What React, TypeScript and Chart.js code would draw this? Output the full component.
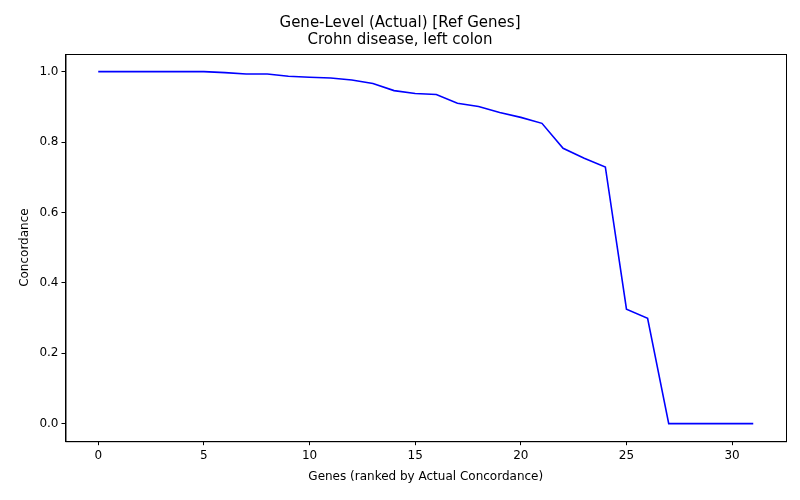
import { useEffect, useRef } from "react";
import { Chart, registerables } from "chart.js";

Chart.register(...registerables);

const genes = Array.from({ length: 32 }, (_, i) => i);
const concordance = [
  1.0, 1.0, 1.0, 1.0, 1.0, 1.0, 0.997, 0.993, 0.993, 0.987, 0.984, 0.982,
  0.976, 0.966, 0.946, 0.938, 0.935, 0.91, 0.901, 0.884, 0.87, 0.853, 0.782,
  0.754, 0.729, 0.325, 0.299, 0, 0, 0, 0, 0,
];
const xTicks = [0, 5, 10, 15, 20, 25, 30];
const yTicks = [0, 0.2, 0.4, 0.6, 0.8, 1.0];

const FONT = "'DejaVu Sans', sans-serif";

// draw the full box around the plot area, matplotlib style
const frame = {
  id: "frame",
  afterDraw(chart: Chart) {
    const { ctx, chartArea: a } = chart;
    ctx.save();
    ctx.strokeStyle = "#000";
    ctx.lineWidth = 1;
    ctx.strokeRect(a.left + 0.5, a.top + 0.5, a.right - a.left, a.bottom - a.top);
    ctx.restore();
  },
};

const App = () => {
  const canvasRef = useRef<HTMLCanvasElement>(null);

  useEffect(() => {
    document.body.style.margin = "0";
    if (!canvasRef.current) return;
    const chart = new Chart(canvasRef.current, {
      type: "line",
      data: {
        datasets: [
          {
            data: genes.map((g, i) => ({ x: g, y: concordance[i] })),
            borderColor: "#0000ff",
            borderWidth: 1.6,
            pointRadius: 0,
            tension: 0,
          },
        ],
      },
      options: {
        animation: false,
        responsive: false,
        layout: { padding: { left: 14, right: 14, top: 7, bottom: 12 } },
        plugins: {
          legend: { display: false },
          tooltip: { enabled: false },
          title: {
            display: true,
            text: ["Gene-Level (Actual) [Ref Genes]", "Crohn disease, left colon"],
            color: "#000",
            font: { family: FONT, size: 15, weight: "normal", lineHeight: 1.1 },
            padding: { top: 8, bottom: 6 },
          },
        },
        scales: {
          x: {
            type: "linear",
            min: -1.55,
            max: 32.55,
            afterBuildTicks: (s) => {
              s.ticks = xTicks.map((v) => ({ value: v }));
            },
            grid: { drawOnChartArea: false, drawTicks: true, tickLength: 4, color: "#000" },
            border: { color: "#000" },
            ticks: { color: "#000", font: { family: FONT, size: 12 } },
            title: {
              display: true,
              text: "Genes (ranked by Actual Concordance)",
              color: "#000",
              font: { family: FONT, size: 12 },
            },
          },
          y: {
            min: -0.05,
            max: 1.05,
            afterBuildTicks: (s) => {
              s.ticks = yTicks.map((v) => ({ value: v }));
            },
            grid: { drawOnChartArea: false, drawTicks: true, tickLength: 4, color: "#000" },
            border: { color: "#000" },
            ticks: {
              color: "#000",
              font: { family: FONT, size: 12 },
              callback: (v) => Number(v).toFixed(1),
            },
            title: {
              display: true,
              text: "Concordance",
              color: "#000",
              font: { family: FONT, size: 12 },
            },
          },
        },
      },
      plugins: [frame],
    });
    return () => chart.destroy();
  }, []);

  return <canvas ref={canvasRef} width={800} height={500}></canvas>;
};

export default App;
